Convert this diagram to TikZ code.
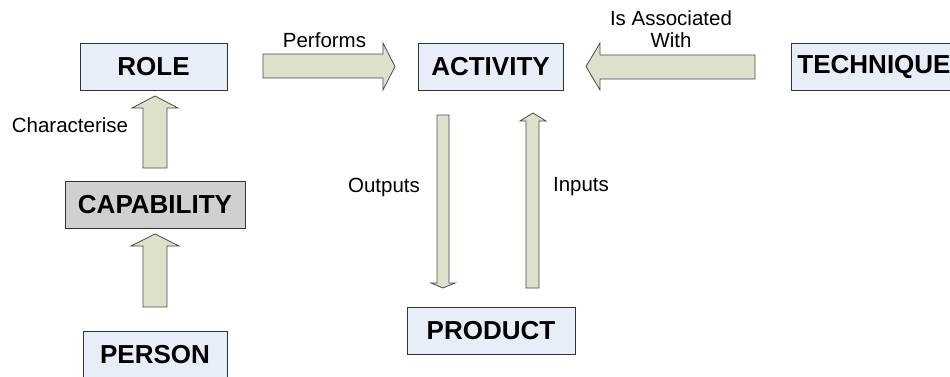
\documentclass[tikz,border=0pt]{standalone}
\usepackage{fontspec}
\setmainfont{Liberation Sans}
\definecolor{boxfill}{HTML}{E8EEF8}
\definecolor{capfill}{HTML}{D0D0D0}
\definecolor{arrfill}{HTML}{DDE1CB}
\definecolor{boxline}{HTML}{333333}
\definecolor{arrline}{HTML}{4A4A4A}
\begin{document}
\begin{tikzpicture}[x=1pt,y=-1pt,
  box/.style={draw=boxline,line width=0.9pt,fill=boxfill,font=\fontsize{26}{30}\selectfont\bfseries,inner sep=0pt,minimum height=47pt},
  blk/.style={draw=arrline,line width=0.8pt,fill=arrfill,line join=miter},
  lbl/.style={font=\fontsize{20.5}{22}\selectfont,inner sep=0pt}]
\useasboundingbox (0,0) rectangle (950,376);
\clip (0,0) rectangle (950,376);
% boxes
\node[box,minimum width=147pt] (role) at (153.5,66.5) {ROLE};
\node[box,minimum width=145pt] (activity) at (490.5,67) {ACTIVITY};
\node[box,anchor=west,inner xsep=6pt] (technique) at (791,66.5) {TECHNIQUE};
\node[box,fill=capfill,minimum width=180pt] (capability) at (155,205) {CAPABILITY};
\node[box,minimum width=144pt] (person) at (155,354.5) {PERSON};
\node[box,minimum width=168pt] (product) at (491,331) {PRODUCT};
% block arrows
\draw[blk] (263,54) -- (383,54) -- (383,43) -- (395,66.5) -- (383,90) -- (383,78) -- (263,78) -- cycle;
\draw[blk] (755,55) -- (600,55) -- (600,43) -- (586,66.5) -- (600,90) -- (600,79) -- (755,79) -- cycle;
\draw[blk] (143,168) -- (143,108) -- (132,108) -- (155,96) -- (178,108) -- (167,108) -- (167,168) -- cycle;
\draw[blk] (143,307) -- (143,246) -- (131,246) -- (155,234) -- (179,246) -- (167,246) -- (167,307) -- cycle;
\draw[blk] (437,115) -- (449,115) -- (449,283) -- (455,283) -- (443,288) -- (431,283) -- (437,283) -- cycle;
\draw[blk] (526,288) -- (526,121) -- (520,121) -- (533,113) -- (546,121) -- (539,121) -- (539,288) -- cycle;
% labels
\node[lbl] (lperf) at (324.5,40) {Performs};
\node[lbl,align=center] (lassoc) at (671,29) {Is Associated\\With};
\node[lbl] (lchar) at (70,125) {Characterise};
\node[lbl] (lout) at (384,187) {Outputs};
\node[lbl] (lin) at (581,187) {Inputs};
\end{tikzpicture}
\end{document}
